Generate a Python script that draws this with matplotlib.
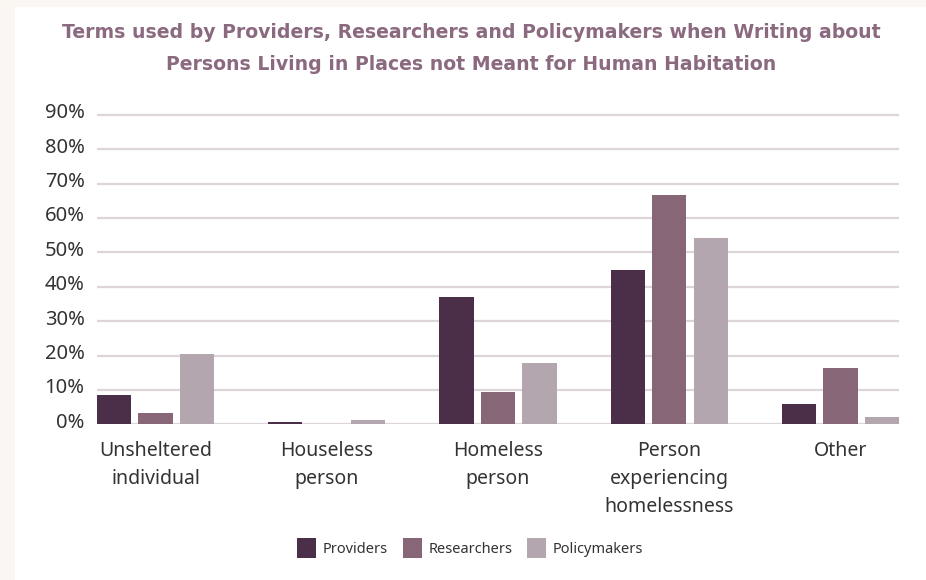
"""Grouped bar chart of terms used for persons living in places not meant for habitation."""

import numpy as np
import matplotlib.pyplot as plt
import matplotlib.transforms as mtransforms

# Data (percent)
categories = ["Unsheltered\nindividual", "Houseless\nperson", "Homeless\nperson",
              "Person\nexperiencing\nhomelessness", "Other"]
series_names = ["Providers", "Researchers", "Policymakers"]
providers = [8.4, 0.8, 36.9, 44.8, 5.8]
researchers = [3.4, 0.0, 9.4, 66.7, 16.3]
policymakers = [20.5, 1.3, 17.8, 54.3, 2.1]
y_ticks = [0, 10, 20, 30, 40, 50, 60, 70, 80, 90]

colors = ["#4b2f48", "#876677", "#b4a6af"]
label_font = "Noto Sans"

fig = plt.figure(figsize=(9.26, 5.8), dpi=100)
fig.patch.set_facecolor("#faf6f1")

# white card behind the chart
card = fig.add_axes([15 / 926, 0, 1 - 15 / 926, 1 - 7 / 580], zorder=0)
card.set_facecolor("white")
card.set_xticks([])
card.set_yticks([])
for spine in card.spines.values():
    spine.set_visible(False)

ax = fig.add_axes([97 / 926, 1 - 424.3 / 580, 802 / 926, (424.3 - 113.3) / 580],
                  zorder=1)
ax.set_facecolor("none")

x = np.arange(len(categories))
offset = 0.242
width = 0.2
for i, (vals, name) in enumerate(zip([providers, researchers, policymakers],
                                     series_names)):
    ax.bar(x + (i - 1) * offset, vals, width, color=colors[i], label=name,
           zorder=3)

ax.set_xlim(-0.342, len(categories) - 1 + 0.342)
ax.set_ylim(0, 90.5)

# horizontal grid lines
for t in y_ticks:
    ax.axhline(t, color="#ddd5d9", lw=1.6, zorder=1)

ax.set_yticks(y_ticks)
ax.set_yticklabels([f"{t}%" for t in y_ticks], fontsize=14.5, color="#333333",
                   family=label_font)
ax.tick_params(axis="y", length=0, pad=9)
# labels sit slightly above their grid lines in the reference
shift = mtransforms.ScaledTranslation(0, 3 / 72, fig.dpi_scale_trans)
for lab in ax.get_yticklabels():
    lab.set_transform(lab.get_transform() + shift)

ax.set_xticks(x)
ax.set_xticklabels(categories, fontsize=14, color="#333333",
                   family=label_font, linespacing=1.55)
ax.tick_params(axis="x", length=0, pad=12)

for spine in ax.spines.values():
    spine.set_visible(False)

# Title
fig.text(0.509, 1 - 32 / 580,
         "Terms used by Providers, Researchers and Policymakers when Writing about",
         ha="center", va="center", fontsize=13.6, fontweight="bold",
         color="#8b6a80", zorder=5)
fig.text(0.509, 1 - 64 / 580,
         "Persons Living in Places not Meant for Human Habitation",
         ha="center", va="center", fontsize=13.6, fontweight="bold",
         color="#8b6a80", zorder=5)

# Legend
leg = fig.legend(loc="center", bbox_to_anchor=(470 / 926, 1 - 548 / 580),
                 ncol=3, frameon=False, handlelength=1.3,
                 handleheight=1.7, handletextpad=0.45, columnspacing=1.0,
                 prop={"family": label_font, "size": 10.5})
leg.set_zorder(5)
for txt in leg.get_texts():
    txt.set_color("#333333")

plt.savefig("out.png", dpi=100, facecolor=fig.get_facecolor())
